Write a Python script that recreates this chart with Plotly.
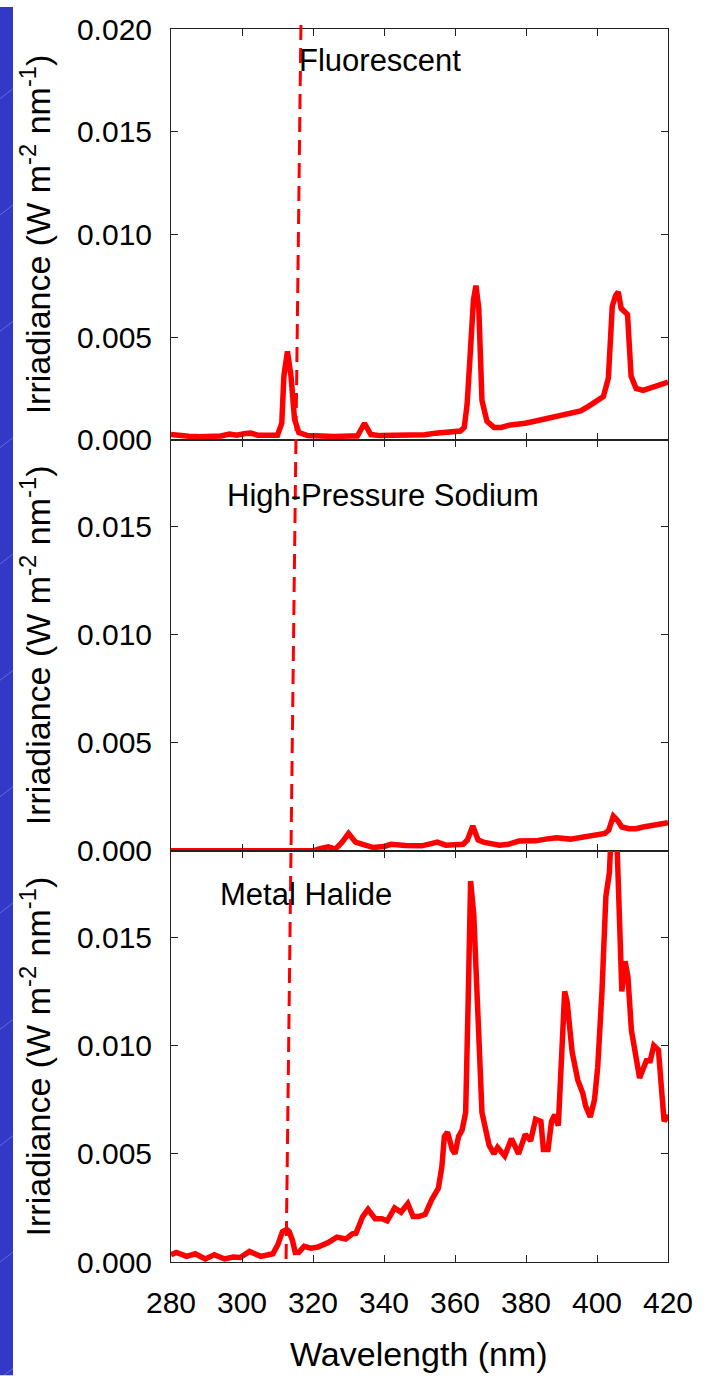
import plotly.graph_objects as go
from plotly.subplots import make_subplots

# ---------------- data ----------------
wl_fluor = [280, 282, 285, 288, 291, 292.5, 294, 296.5, 298.5, 301, 302.5, 304.5, 307, 310,
            311.2, 311.8, 312.8, 313.8, 314.8, 316, 318.5, 322, 326, 330.5, 332.5, 334.5, 336.3,
            339, 343, 347, 351.5, 354.5, 358, 361.5, 362.6, 363.4, 364.3, 365.2, 365.9, 366.7,
            367.6, 369, 371, 373, 375, 379.8, 383.7, 387.6, 391.5, 395.4, 397.8, 400.3, 401.8,
            403.2, 404.3, 405.2, 406.0, 406.8, 407.8, 408.6, 409.6, 411, 413, 416, 420]
irr_fluor = [0.00025, 0.0002, 0.00017, 0.00015, 0.00017, 0.00022, 0.00018, 0.00028, 0.00022, 0.0003,
             0.00032, 0.00022, 0.0002, 0.00022,
             0.0008, 0.0031, 0.0043, 0.0031, 0.001, 0.00035, 0.0002, 0.00016, 0.00016, 0.00018, 0.00018, 0.0008, 0.00025,
             0.0002, 0.0002, 0.00021, 0.00024, 0.00032, 0.00036, 0.00042, 0.0006, 0.0017, 0.0042, 0.0068, 0.0075, 0.0064,
             0.0019, 0.0009, 0.0006, 0.0006, 0.0007, 0.0008, 0.00095, 0.0011, 0.00124, 0.0014, 0.00165, 0.0019, 0.0021,
             0.003, 0.0065, 0.0070, 0.0072, 0.0064, 0.0062, 0.0061, 0.0031, 0.0025, 0.0024, 0.0026, 0.0028]

wl_hps = [280, 300, 320, 322, 324.3, 326.3, 328.2, 330, 332, 334, 337, 340, 342, 346, 350.6, 353, 355,
          357.4, 360, 362.3, 363.5, 365, 366.5, 368, 372.5, 375, 378, 382.7, 386, 388.6, 392.5, 397.3,
          400, 402.2, 403.3, 404.6, 405.8, 407, 409, 411, 413, 415, 417.5, 420]
irr_hps = [0, 0, 0, 0.0001, 0.00018, 0.00008, 0.0004, 0.0008, 0.0004, 0.0003, 0.00015, 0.0002, 0.0003,
           0.00025, 0.00023, 0.00032, 0.0004, 0.00026, 0.00028, 0.0003, 0.0005, 0.00115, 0.0005, 0.0004,
           0.00026, 0.0003, 0.00045, 0.00046, 0.00055, 0.0006, 0.00054, 0.00065, 0.0007, 0.0008, 0.00095,
           0.0016, 0.0014, 0.0011, 0.00102, 0.00102, 0.0011, 0.00115, 0.0012, 0.0013]

wl_mh = [280, 281.5, 284.4, 286.8, 289.7, 292.2, 295.1, 297.5, 299.5, 302.1, 305.3, 308.7, 310.1,
         311.4, 312.6, 313.3, 314.2, 315, 316, 317.5, 319.4, 321.4, 324.3, 326.7, 329.2, 331.1, 332.1,
         334, 335.5, 337.5, 339.4, 340.9, 343, 344.8, 346.7, 348.2, 349.8, 351.6, 353.5, 355.3, 356.3,
         357, 357.9, 359.2, 360, 361, 362, 363, 363.7, 364.4, 365.3, 366.2, 367.6, 369.6, 371, 372,
         374, 375.9, 377.9, 379.8, 381.3, 382.7, 384.2, 384.9, 386.2, 387.2, 388.1, 389.1, 390, 390.9,
         391.6, 393, 394.6, 396, 396.8, 398.1, 399.3, 400.2, 401.4, 402.5, 403.5, 404.3, 405.4, 406.3,
         407, 407.9, 408.7, 409.7, 411, 412, 413.9, 415, 416, 417.3, 418.9, 420]
irr_mh = [0.00034, 0.00044, 0.00026, 0.00038, 0.00014, 0.00034, 0.00014, 0.00023, 0.00021, 0.00049,
          0.00026, 0.00038, 0.0008, 0.0014, 0.0015, 0.0014, 0.001, 0.00044, 0.00045, 0.00072, 0.00064,
          0.00069, 0.0009, 0.00115, 0.00106, 0.0013, 0.00133, 0.0021, 0.00243, 0.002, 0.002, 0.0019,
          0.0025, 0.0023, 0.0027, 0.0021, 0.0021, 0.0022, 0.0029, 0.0034, 0.0044, 0.0058, 0.006, 0.0052,
          0.005, 0.0058, 0.0061, 0.0069, 0.012, 0.0176, 0.016, 0.012, 0.0069, 0.0054, 0.005, 0.0053,
          0.0049, 0.0057, 0.005, 0.0059, 0.0056, 0.0066, 0.0065, 0.0052, 0.0052, 0.0065, 0.0068, 0.0063,
          0.009, 0.0125, 0.012, 0.0097, 0.0084, 0.0078, 0.0072, 0.0067, 0.0075, 0.009, 0.0125, 0.0169,
          0.018, 0.021, 0.0205, 0.0158, 0.0125, 0.0139, 0.0132, 0.0107, 0.0094, 0.0085, 0.0093, 0.0093,
          0.01, 0.0098, 0.0065, 0.0068]

panel_labels = ["Fluorescent", "High-Pressure Sodium", "Metal Halide"]
x_ticks = [280, 300, 320, 340, 360, 380, 400, 420]
y_ticks = [0.0, 0.005, 0.010, 0.015, 0.020]
y_ticktext = ["0.000", "0.005", "0.010", "0.015", "0.020"]
y_max = [0.020, 0.019, 0.019]
cutoff_top, cutoff_bottom = 316.6, 312.4   # hand-drawn dashed marker (nm)

# ---------------- figure ----------------
FONT = "Liberation Sans, Arial, sans-serif"
W, H = 708, 1376
ML, MR, MT, MB = 171, 40, 22, 114
PW, PH = W - ML - MR, H - MT - MB

fig = make_subplots(rows=3, cols=1, shared_xaxes=True, vertical_spacing=0)
series = [(wl_fluor, irr_fluor), (wl_hps, irr_hps), (wl_mh, irr_mh)]
for i, (xs, ys) in enumerate(series):
    fig.add_trace(go.Scatter(x=xs, y=ys, mode="lines",
                             line=dict(color="#ff0000", width=5.5),
                             showlegend=False), row=i + 1, col=1)

doms = [[0.6669, 1.0], [0.3335, 0.6669], [0.0, 0.3335]]
for i in range(3):
    fig.update_yaxes(row=i + 1, col=1, domain=doms[i], range=[0, y_max[i]],
                     tickvals=y_ticks, ticktext=y_ticktext,
                     ticks="inside", ticklen=7, tickcolor="#222", tickwidth=1.2,
                     showline=True, linecolor="#222", linewidth=1, mirror="ticks",
                     showgrid=False, zeroline=False, ticklabelstandoff=12,
                     tickfont=dict(family=FONT, size=30, color="black"))
    fig.update_xaxes(row=i + 1, col=1, range=[280, 420], tickvals=x_ticks,
                     ticks="inside", ticklen=7, tickcolor="#222", tickwidth=1.2,
                     showline=True, linecolor="#222", linewidth=1, mirror="ticks",
                     showgrid=False, zeroline=False, ticklabelstandoff=14,
                     tickfont=dict(family=FONT, size=30, color="black"))

# panel labels
label_pos = [(315.5, 0.01845), (295.3, 0.01643), (293.3, 0.01696)]
for i, (txt, (lx, ly)) in enumerate(zip(panel_labels, label_pos)):
    fig.add_annotation(x=lx, y=ly, xref=f"x{'' if i == 0 else i + 1}", yref=f"y{'' if i == 0 else i + 1}",
                       text=txt, showarrow=False, xanchor="left", yanchor="middle",
                       font=dict(family=FONT, size=31, color="black"))

# y titles
for i in range(3):
    yc = (doms[i][0] + doms[i][1]) / 2
    fig.add_annotation(x=(35 - ML) / PW, y=yc, xref="paper", yref="paper",
                       text="Irriadiance (W m<sup>-2</sup> nm<sup>-1</sup>)", textangle=-90,
                       showarrow=False, xanchor="center", yanchor="middle",
                       font=dict(family=FONT, size=34, color="black"))

# x title
fig.add_annotation(x=(419 - ML) / PW, y=(H - MB - 1355) / PH,
                   xref="paper", yref="paper", text="Wavelength (nm)", showarrow=False,
                   xanchor="center", yanchor="middle", font=dict(family=FONT, size=34, color="black"))

shapes = []
# blue slide strip at left
shapes.append(dict(type="rect", xref="paper", yref="paper", x0=(0 - ML) / PW, x1=(13 - ML) / PW,
                   y0=(H - MB - H) / PH, y1=(H - MB) / PH, fillcolor="#3238c8", line=dict(width=0),
                   layer="below"))
for yy in range(82, 1376, 117):
    shapes.append(dict(type="line", xref="paper", yref="paper", x0=(0 - ML) / PW, x1=(13 - ML) / PW,
                       y0=(H - MB - (yy + 10)) / PH, y1=(H - MB - yy) / PH,
                       line=dict(color="rgba(255,255,255,0.25)", width=1), layer="below"))
# dashed marker line
shapes.append(dict(type="line", xref="x3", yref="paper", x0=cutoff_top, x1=cutoff_bottom,
                   y0=(H - MB - 18) / PH, y1=(H - MB - 1265) / PH,
                   line=dict(color="#ff0000", width=3, dash="15px,8px")))

fig.update_layout(width=W, height=H, autosize=False,
                  margin=dict(l=ML, r=MR, t=MT, b=MB),
                  paper_bgcolor="white", plot_bgcolor="white",
                  shapes=shapes, showlegend=False)

fig.write_html("out.html")
